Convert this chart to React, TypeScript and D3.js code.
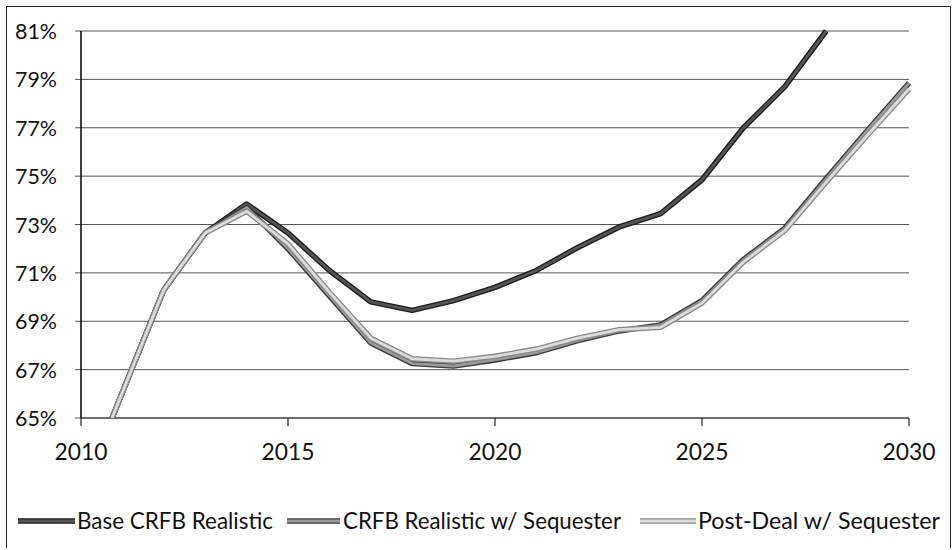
import React from "react";
import * as d3 from "d3";

const years = [2010.75, 2012, 2013, 2014, 2015, 2016, 2017, 2018, 2019, 2020, 2021, 2022, 2023, 2024, 2025, 2026, 2027, 2028, 2029, 2030];
const baseRealistic = [65.0, 70.3, 72.65, 73.85, 72.65, 71.1, 69.8, 69.45, 69.85, 70.4, 71.1, 72.05, 72.9, 73.45, 74.85, 77.0, 78.7, 81.0];
const realisticSequester = [65.0, 70.3, 72.65, 73.7, 72.0, 70.05, 68.1, 67.25, 67.15, 67.4, 67.7, 68.2, 68.6, 68.85, 69.85, 71.55, 72.85, 74.9, 76.9, 78.85];
const postDealSequester = [65.0, 70.3, 72.65, 73.55, 72.2, 70.2, 68.3, 67.45, 67.35, 67.55, 67.85, 68.3, 68.65, 68.75, 69.75, 71.45, 72.75, 74.75, 76.7, 78.6];
const yTicks = [65, 67, 69, 71, 73, 75, 77, 79, 81];
const xTicks = [2010, 2015, 2020, 2025, 2030];
const seriesNames = ["Base CRFB Realistic", "CRFB Realistic w/ Sequester", "Post-Deal w/ Sequester"];

const W = 952;
const H = 550;
const FONT = "Lato, 'Open Sans', sans-serif";

export default function App() {
  const x = d3.scaleLinear().domain([2010, 2030]).range([81, 909]);
  const y = d3.scaleLinear().domain([65, 81]).range([418, 31]);
  const line = d3
    .line<[number, number]>()
    .x((d) => x(d[0]))
    .y((d) => y(d[1]));

  const series = [
    { name: seriesNames[0], values: baseRealistic, outer: "#1c1c1c", inner: "#555" },
    { name: seriesNames[1], values: realisticSequester, outer: "#3a3a3a", inner: "#9a9a9a" },
    { name: seriesNames[2], values: postDealSequester, outer: "#8a8a8a", inner: "#dcdcdc" },
  ];

  const legendItems = [
    { sx: 18, ex: 75, tx: 77, tw: 196 },
    { sx: 287, ex: 340, tx: 343, tw: 278 },
    { sx: 640, ex: 696, tx: 698, tw: 242 },
  ];

  return (
    <svg
      width={W}
      height={H}
      style={{ position: "absolute", left: 0, top: 0, background: "#fff" }}
    >
      <defs>
        <clipPath id="plotClip">
          <rect x={x(2010)} y={y(81) - 3} width={x(2030) - x(2010) + 6} height={y(65) - y(81) + 3} />
        </clipPath>
      </defs>
      <path d={`M6.5,548 L6.5,6.5 L950.5,6.5 L950.5,548`} fill="none" stroke="#222" strokeWidth={1} />

      {yTicks.map((t) => (
        <g key={t}>
          <line x1={x(2010) - 6} x2={x(2030)} y1={y(t)} y2={y(t)} stroke="#555" strokeWidth={1} />
          <text
            x={57}
            y={y(t) + 8}
            textAnchor="end"
            fontFamily={FONT}
            fontSize={22}
            fill="#111"
            textLength={42}
            lengthAdjust="spacingAndGlyphs"
          >
            {t}%
          </text>
        </g>
      ))}

      <line x1={x(2010)} x2={x(2010)} y1={y(81)} y2={y(65)} stroke="#000" strokeWidth={1.5} />
      <line x1={x(2010)} x2={x(2030)} y1={y(65)} y2={y(65)} stroke="#333" strokeWidth={1.2} />
      {xTicks.map((t) => (
        <g key={t}>
          <line x1={x(t)} x2={x(t)} y1={y(65)} y2={y(65) + 8} stroke="#222" strokeWidth={1.2} />
          <text
            x={x(t)}
            y={460}
            textAnchor="middle"
            fontFamily={FONT}
            fontSize={23}
            fill="#111"
            textLength={53}
            lengthAdjust="spacingAndGlyphs"
          >
            {t}
          </text>
        </g>
      ))}

      <g clipPath="url(#plotClip)">
        {series.map((s) => {
          const pts = s.values.map((v, i) => [years[i], v] as [number, number]);
          const d = line(pts) || "";
          return (
            <g key={s.name}>
              <path d={d} fill="none" stroke={s.outer} strokeWidth={5.5} strokeLinejoin="round" />
              <path d={d} fill="none" stroke={s.inner} strokeWidth={2.8} strokeLinejoin="round" />
            </g>
          );
        })}
      </g>

      {series.map((s, i) => {
        const it = legendItems[i];
        return (
          <g key={s.name}>
            <line x1={it.sx} x2={it.ex} y1={521} y2={521} stroke={s.outer} strokeWidth={5.5} />
            <line x1={it.sx} x2={it.ex} y1={521} y2={521} stroke={s.inner} strokeWidth={2.8} />
            <text
              x={it.tx}
              y={529}
              fontFamily={FONT}
              fontSize={23}
              fill="#111"
              textLength={it.tw}
              lengthAdjust="spacingAndGlyphs"
            >
              {s.name}
            </text>
          </g>
        );
      })}
    </svg>
  );
}
